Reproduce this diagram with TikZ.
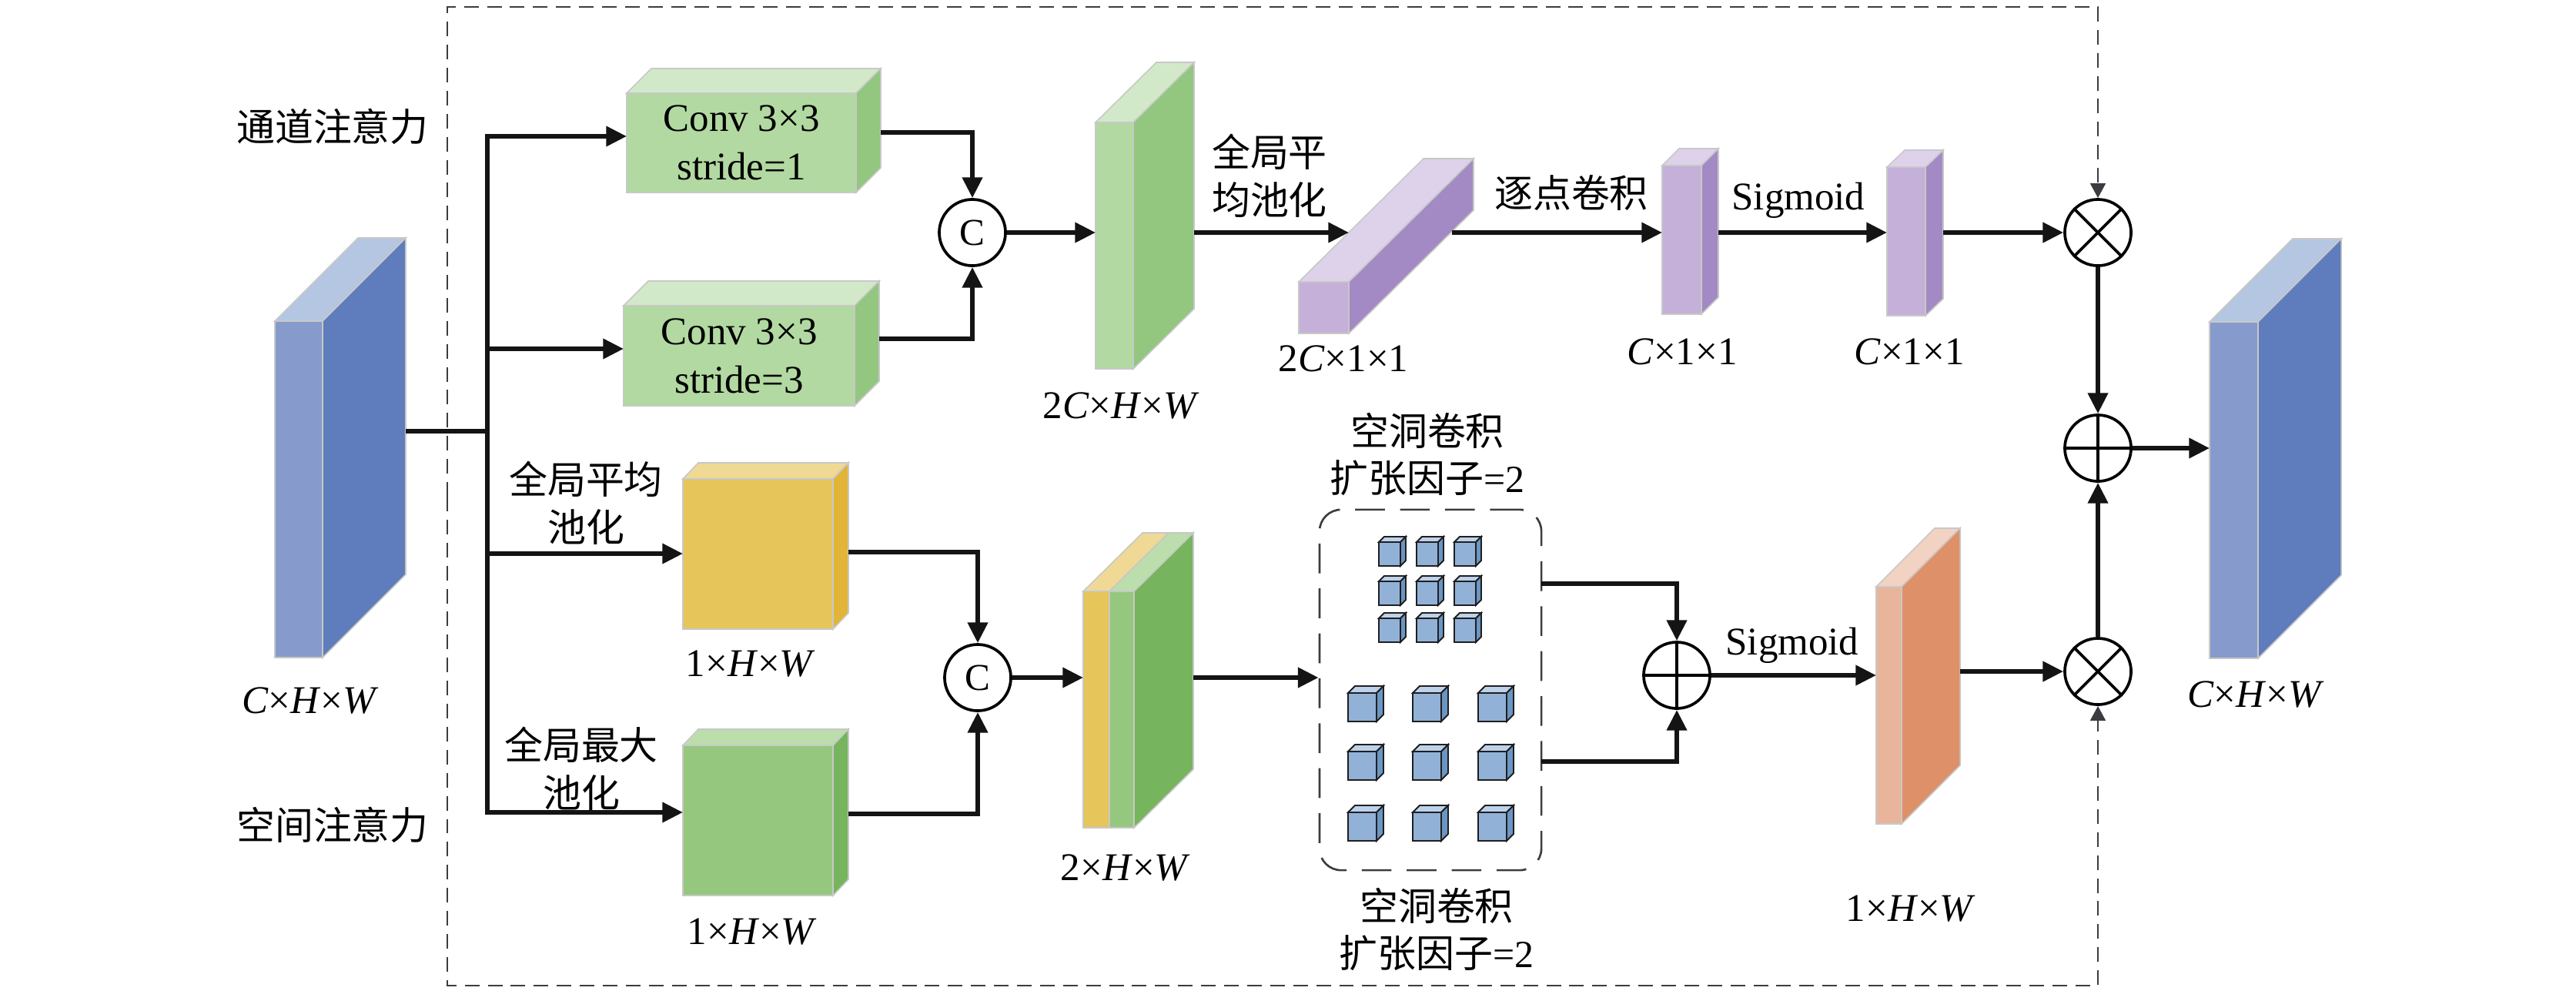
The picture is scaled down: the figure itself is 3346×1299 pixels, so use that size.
\documentclass[tikz,border=0pt]{standalone}
\usepackage{fontspec}
\setmainfont{Liberation Serif}
\newfontfamily\cjk{Noto Sans CJK SC}
\usetikzlibrary{arrows.meta}

\definecolor{bluF}{HTML}{869BCB}\definecolor{bluS}{HTML}{5F7CBC}\definecolor{bluT}{HTML}{B4C6E1}
\definecolor{cgrF}{HTML}{B2D9A1}\definecolor{cgrS}{HTML}{93C67E}\definecolor{cgrT}{HTML}{D2E9C9}
\definecolor{purF}{HTML}{C4B0D8}\definecolor{purS}{HTML}{A48AC4}\definecolor{purT}{HTML}{DDD2EA}
\definecolor{yelF}{HTML}{E6C55B}\definecolor{yelS}{HTML}{E2B437}\definecolor{yelT}{HTML}{EFD994}
\definecolor{mgrF}{HTML}{95C77F}\definecolor{mgrS}{HTML}{76B55D}\definecolor{mgrT}{HTML}{BCDEAC}
\definecolor{orgF}{HTML}{E8B49B}\definecolor{orgS}{HTML}{DE9169}\definecolor{orgT}{HTML}{F2D3C3}
\definecolor{cubF}{HTML}{92B1D7}\definecolor{cubS}{HTML}{6A96C4}\definecolor{cubT}{HTML}{BDD2EA}
\definecolor{edgegray}{HTML}{C8C8C8}
\definecolor{dgray}{HTML}{3C3C40}

% name, x, y, w, h, dx, dy, colour prefix
\newcommand{\cuboid}[8]{%
  \filldraw[facet, fill=#8T] (#2,#3) -- ++(#6,-#7) -- ++(#4,0) -- ++(-#6,#7) -- cycle;
  \filldraw[facet, fill=#8S] ({#2+#4},#3) -- ++(#6,-#7) -- ++(0,#5) -- ++(-#6,#7) -- cycle;
  \filldraw[facet, fill=#8F] (#2,#3) rectangle ++(#4,#5);
  \node[inner sep=0pt, outer sep=0pt, minimum width={#4*0.01cm}, minimum height={#5*0.01cm}, anchor=north west] (#1) at (#2,#3) {};
  \coordinate (#1-b) at ({#2+#4+#6},{#3-#7});
}
% x, y, w, h, d
\newcommand{\minicube}[5]{%
  \filldraw[cubeline, fill=cubT] (#1,#2) -- ++(#5,-#5) -- ++(#3,0) -- ++(-#5,#5) -- cycle;
  \filldraw[cubeline, fill=cubS] ({#1+#3},#2) -- ++(#5,-#5) -- ++(0,#4) -- ++(-#5,#5) -- cycle;
  \filldraw[cubeline, fill=cubF] (#1,#2) rectangle ++(#3,#4);
}

\begin{document}
\begin{tikzpicture}[x=0.01cm,y=-0.01cm,
  conn/.style={line width=1.7pt, draw=black!92},
  arr/.style={conn, -{Triangle[length=7.6pt,width=7.2pt]}},
  dashbox/.style={line width=0.8pt, draw=dgray, dash pattern=on 5.4pt off 3.1pt},
  garr/.style={dashbox, -{Triangle[length=5.4pt,width=5.6pt]}},
  op/.style={circle, draw, line width=1.05pt, minimum size=0.86cm, inner sep=0pt},
  lbl/.style={font=\fontsize{14.5}{18}\selectfont, inner sep=0pt, align=center},
  clbl/.style={font=\cjk\fontsize{14.2}{17.6}\selectfont, inner sep=0pt, align=center},
  facet/.style={draw=edgegray, line width=0.45pt},
  cubeline/.style={draw=black!88, line width=0.55pt}
]
\useasboundingbox (0,0) rectangle (3346,1299);

% ---------- outer dashed frame ----------
\coordinate (fl) at (581,645);
\coordinate (ftr) at (2725,9);
\coordinate (fbr) at (2725,1280);

% ---------- side titles ----------
\node[clbl] (tch) at (432,164) {通道注意力};
\node[clbl] (tsp) at (432,1071) {空间注意力};

% ---------- blocks ----------
\cuboid{in}{357}{417}{62}{437}{108}{108}{blu}
\node[lbl] (lin) at (403,910) {\textit{C}×\textit{H}×\textit{W}};

\cuboid{conv1}{814}{121}{298}{129}{32}{32}{cgr}
\node[lbl] (tconv1) at (conv1) {Conv 3×3\\stride=1};
\cuboid{conv2}{810}{397}{300}{130}{32}{32}{cgr}
\node[lbl] (tconv2) at (conv2) {Conv 3×3\\stride=3};

\cuboid{avg}{887}{622}{195}{195}{20}{21}{yel}
\node[lbl] (lavg) at (975,862) {1×\textit{H}×\textit{W}};
\cuboid{mx}{887}{968}{195}{195}{20}{21}{mgr}
\node[lbl] (lmx) at (977,1210) {1×\textit{H}×\textit{W}};

\node[clbl] (tavg) at (761,653) {全局平均\\池化};
\node[clbl] (tmx) at (755,998) {全局最大\\池化};

\cuboid{gs}{1423}{159}{49}{320}{79}{78}{cgr}
\node[lbl] (lgs) at (1456,527) {2\textit{C}×\textit{H}×\textit{W}};

\cuboid{pv}{1687}{366}{65}{67}{162}{160}{pur}
\node[lbl] (lpv) at (1745,466) {2\textit{C}×1×1};
\node[clbl] (tgap) at (1649,228) {全局平\\均池化};

\cuboid{p1}{2159}{215}{51}{193}{22}{22}{pur}
\node[lbl] (lp1) at (2185,457) {\textit{C}×1×1};
\node[clbl] (tpw) at (2041,250) {逐点卷积};
\cuboid{p2}{2451}{217}{50}{193}{23}{22}{pur}
\node[lbl] (lp2) at (2480,457) {\textit{C}×1×1};
\node[lbl] (tsg1) at (2336,260) {Sigmoid};

% stacked 2xHxW slab
\filldraw[facet, fill=yelT] (1407,768) -- ++(77,-76) -- ++(34,0) -- ++(-77,76) -- cycle;
\filldraw[facet, fill=yelF] (1407,768) rectangle ++(34,307);
\cuboid{stk2}{1441}{768}{32}{307}{77}{76}{mgr}
\node[inner sep=0pt, minimum width=0.66cm, minimum height=3.07cm, anchor=north west] (stk) at (1407,768) {};
\node[lbl] (lstk) at (1462,1127) {2×\textit{H}×\textit{W}};

% dilated conv group
\node[draw=dgray, line width=0.75pt, dash pattern=on 11pt off 5.6pt, rounded corners=8pt,
      minimum width=2.88cm, minimum height=4.68cm, inner sep=0pt] (dil) at (1858,896) {};
\foreach \cx in {1791,1840,1889} \foreach \cy in {704,755,803} {\minicube{\cx}{\cy}{28}{31}{7}}
\foreach \cx in {1751,1835,1920} \foreach \cy in {900,976,1055} {\minicube{\cx}{\cy}{37}{37}{9}}
\node[clbl] (td1) at (1854,590) {空洞卷积\\{\cjk 扩张因子}{\fontspec{Liberation Serif}=2}};
\node[clbl] (td2) at (1866,1207) {空洞卷积\\{\cjk 扩张因子}{\fontspec{Liberation Serif}=2}};

\cuboid{org}{2437}{762}{33}{308}{76}{76}{org}
\node[lbl] (lorg) at (2482,1180) {1×\textit{H}×\textit{W}};
\node[lbl] (tsg2) at (2328,838) {Sigmoid};

\cuboid{out}{2870}{418}{63}{437}{108}{108}{blu}
\node[lbl] (lout) at (2930,902) {\textit{C}×\textit{H}×\textit{W}};

% ---------- operators ----------
\node[op, font=\fontsize{14}{16}\selectfont] (c1) at (1263,302) {C};
\node[op, font=\fontsize{14}{16}\selectfont] (c2) at (1270,880) {C};
\node[op] (s1) at (2178,877) {};
\draw[line width=1.05pt] (s1.north) -- (s1.south) (s1.west) -- (s1.east);
\node[op] (m1) at (2725,302) {};
\draw[line width=1.05pt] (m1.45) -- (m1.225) (m1.135) -- (m1.315);
\node[op] (a1) at (2725,582) {};
\draw[line width=1.05pt] (a1.north) -- (a1.south) (a1.west) -- (a1.east);
\node[op] (m2) at (2725,872) {};
\draw[line width=1.05pt] (m2.45) -- (m2.225) (m2.135) -- (m2.315);

% ---------- dashed frame with arrows ----------
\draw[garr] (fl) -- (581,9) -- (ftr) -- (m1.north);
\draw[garr] (fl) -- (581,1280) -- (fbr) -- (m2.south);

% ---------- connectors ----------
\coordinate (busin) at (633,560);
\coordinate (b1) at (633,177);
\coordinate (b2) at (633,453);
\coordinate (b3) at (633,719);
\coordinate (b4) at (633,1055);
\draw[conn] (in-b |- busin) -- (busin);
\draw[arr] (b4) -- (b1) -- (b1 -| conv1.west);
\draw[arr] (b1) -- (b4) -- (b4 -| mx.west);
\draw[arr] (b2) -- (b2 -| conv2.west);
\draw[arr] (b3) -- (b3 -| avg.west);

\coordinate (k1) at (1144,172);
\coordinate (k2) at (1142,440);
\draw[arr] (k1) -- (k1 -| c1) -- (c1.north);
\draw[arr] (k2) -- (k2 -| c1) -- (c1.south);
\draw[arr] (c1.east) -- (c1 -| gs.west);
\coordinate (pvhit) at (1752,302);
\coordinate (pvout) at (1886,302);
\draw[arr] (gs-b |- c1) -- (pvhit);
\draw[arr] (pvout) -- (pvout -| p1.west);
\draw[arr] (p1-b |- m1) -- (m1 -| p2.west);
\draw[arr] (p2-b |- m1) -- (m1.west);
\draw[arr] (m1.south) -- (a1.north);
\draw[arr] (m2.north) -- (a1.south);
\draw[arr] (a1.east) -- (a1 -| out.west);

\coordinate (k3) at (1102,717);
\coordinate (k4) at (1102,1057);
\draw[arr] (k3) -- (k3 -| c2) -- (c2.north);
\draw[arr] (k4) -- (k4 -| c2) -- (c2.south);
\draw[arr] (c2.east) -- (c2 -| stk.west);
\draw[arr] (stk2-b |- c2) -- (c2 -| dil.west);
\coordinate (k5) at (2002,758);
\coordinate (k6) at (2002,989);
\draw[arr] (k5) -- (k5 -| s1) -- (s1.north);
\draw[arr] (k6) -- (k6 -| s1) -- (s1.south);
\draw[arr] (s1.east) -- (s1 -| org.west);
\draw[arr] (org-b |- m2) -- (m2.west);
\end{tikzpicture}
\end{document}
